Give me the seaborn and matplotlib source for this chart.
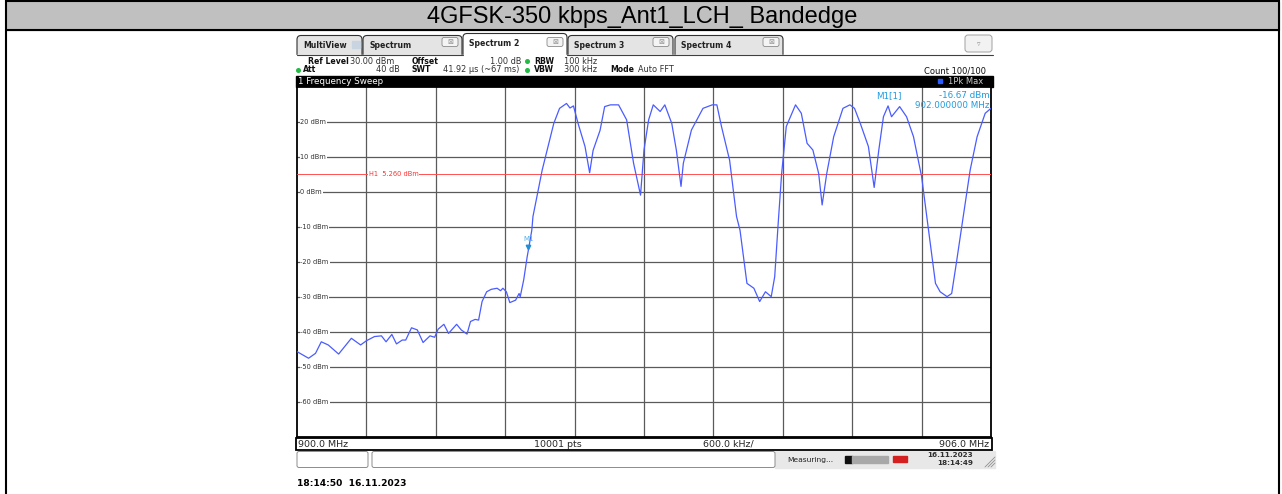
import matplotlib
matplotlib.use("Agg")
import matplotlib.pyplot as plt
from matplotlib.patches import Rectangle, FancyBboxPatch
import seaborn as sns

W, H = 1282, 494

# trace (MHz, dBm)
freq_mhz = [
    900.00, 900.10, 900.16, 900.21, 900.27, 900.36, 900.47, 900.55, 900.60, 900.67,
    900.73, 900.77, 900.82, 900.86, 900.91, 900.94, 900.99, 901.04, 901.09, 901.15,
    901.19, 901.22, 901.27, 901.31, 901.38, 901.42, 901.47, 901.50, 901.54, 901.57,
    901.60, 901.64, 901.68, 901.73, 901.76, 901.78, 901.81, 901.84, 901.89, 901.92,
    901.93, 901.96, 901.99, 902.00, 902.03, 902.04, 902.12, 902.22, 902.27, 902.33,
    902.36, 902.39, 902.43, 902.49, 902.53, 902.56, 902.62, 902.66, 902.71, 902.78,
    902.85, 902.91, 902.97, 903.00, 903.04, 903.08, 903.14, 903.18, 903.24, 903.28,
    903.32, 903.34, 903.41, 903.51, 903.59, 903.63, 903.67, 903.74, 903.80, 903.83,
    903.86, 903.89, 903.95, 904.00, 904.05, 904.10, 904.13, 904.16, 904.19, 904.23,
    904.31, 904.36, 904.41, 904.46, 904.51, 904.54, 904.58, 904.64, 904.72, 904.78,
    904.82, 904.87, 904.94, 904.99, 905.03, 905.07, 905.11, 905.14, 905.21, 905.27,
    905.33, 905.40, 905.46, 905.52, 905.56, 905.62, 905.66, 905.70, 905.76, 905.82,
    905.88, 905.95, 906.00,
]
level_dbm = [
    -45.6, -47.5, -46.1, -42.8, -43.7, -46.3, -41.8, -43.7, -42.5, -41.3,
    -41.1, -42.8, -40.7, -43.4, -42.3, -42.3, -38.8, -39.4, -43.0, -41.1,
    -41.5, -39.2, -37.8, -40.4, -37.8, -39.4, -40.6, -37.0, -36.4, -36.6,
    -31.3, -28.5, -27.8, -27.5, -28.2, -27.5, -28.5, -31.6, -30.9, -29.0,
    -29.9, -25.1, -18.5, -16.67, -10.9, -7.0, 6.3, 19.6, 23.9, 25.3,
    24.0, 24.6, 19.6, 13.0, 5.5, 11.9, 17.6, 24.4, 24.9, 24.9,
    20.6, 8.2, -0.9, 12.0, 20.6, 24.9, 23.0, 24.9, 19.6, 11.9,
    1.6, 8.2, 17.7, 23.9, 24.9, 24.9, 18.7, 9.1, -7.0, -10.9,
    -18.5, -26.1, -27.5, -31.3, -28.5, -29.9, -24.2, -9.0, 5.3, 18.7,
    24.9, 22.5, 13.9, 12.0, 5.3, -3.7, 5.3, 15.8, 23.9, 24.9,
    23.9, 19.6, 13.0, 1.3, 12.0, 21.5, 24.6, 21.5, 24.4, 21.5,
    15.8, 4.4, -10.9, -26.1, -28.5, -29.9, -29.0, -20.4, -7.0, 6.3,
    15.8, 22.5, 23.9,
]

y_ticks = [20, 10, 0, -10, -20, -30, -40, -50, -60]
x_grid = [900.6, 901.2, 901.8, 902.4, 903.0, 903.6, 904.2, 904.8, 905.4]
h1_level = 5.26
m1_freq = 902.0
m1_level = -16.67

title = "4GFSK-350 kbps_Ant1_LCH_ Bandedge"
tab_names = ["MultiView", "Spectrum", "Spectrum 2", "Spectrum 3", "Spectrum 4"]
tab_x = [(297, 362), (363, 462), (463, 567), (568, 673), (675, 783)]

sns.set_style("white")
plt.rcParams["font.family"] = ["DejaVu Sans"]

fig = plt.figure(figsize=(W / 100, H / 100), dpi=100)
bg = fig.add_axes([0, 0, 1, 1])
bg.set_xlim(0, W)
bg.set_ylim(H, 0)
bg.axis("off")

# table title row
bg.add_patch(Rectangle((6, 2), 1273, 28, color="#c0c0c0", zorder=1))
bg.plot([6, 1279], [1.5, 1.5], color="black", lw=1.5)
bg.plot([6, 1279], [30.5, 30.5], color="black", lw=1.5)
bg.plot([6, 6], [0, H], color="black", lw=1.5)
bg.plot([1279, 1279], [0, H], color="black", lw=1.5)
bg.text(642.5, 17.5, title, ha="center", va="center", fontsize=17, color="black",
        family=["Liberation Sans", "DejaVu Sans"])

# tabs
for name, (x0, x1) in zip(tab_names, tab_x):
    active = name == "Spectrum 2"
    top = 33.5 if active else 35.5
    bg.add_patch(FancyBboxPatch((x0, top), x1 - x0, 60 - top,
                                boxstyle="round,pad=0,rounding_size=4",
                                fc="white" if active else "#e4e4e4",
                                ec="#303030", lw=0.8, zorder=3))
    bg.text(x0 + 6, 43.5 if active else 45, name, fontsize=5.6, weight="bold",
            va="center", color="#202020", zorder=7)
    if name == "MultiView":
        bg.add_patch(Rectangle((352, 41), 8, 7, color="#c8d4e0", zorder=7))
    else:
        bg.add_patch(FancyBboxPatch((x1 - 20, 37.5), 16, 9,
                                    boxstyle="round,pad=0,rounding_size=2",
                                    fc="#f4f4f4", ec="#8a8a8a", lw=0.6, zorder=7))
        bg.text(x1 - 12, 42, "\u22a0", fontsize=5, ha="center", va="center",
                color="#909090", zorder=8)
bg.add_patch(Rectangle((296, 55.4), 698, 21, color="white", zorder=5))
bg.plot([297, 463], [55, 55], color="#404040", lw=0.8, zorder=6)
bg.plot([567, 993], [55, 55], color="#404040", lw=0.8, zorder=6)
bg.add_patch(FancyBboxPatch((965, 35), 27, 17, boxstyle="round,pad=0,rounding_size=3",
                            fc="#f2f2f2", ec="#a0a0a0", lw=0.7, zorder=5))
bg.text(978.5, 43.5, "\u25bf", fontsize=5, ha="center", va="center", color="#909090", zorder=6)

# setting lines
bold = dict(fontsize=5.6, weight="bold", va="center", color="#101010", zorder=7)
norm = dict(fontsize=5.9, va="center", color="#303030", zorder=7)
bg.text(308, 61, "Ref Level", **bold)
bg.text(350, 61, "30.00 dBm", **norm)
bg.text(412, 61, "Offset", **bold)
bg.text(521, 61, "1.00 dB", ha="right", **norm)
bg.text(534, 61, "RBW", **bold)
bg.text(564, 61, "100 kHz", **norm)
bg.text(303, 70, "Att", **bold)
bg.text(400, 70, "40 dB", ha="right", **norm)
bg.text(412, 70, "SWT", **bold)
bg.text(443, 70, "41.92 \u00b5s (~67 ms)", **norm)
bg.text(534, 70, "VBW", **bold)
bg.text(564, 70, "300 kHz", **norm)
bg.text(610, 70, "Mode", **bold)
bg.text(638, 70, "Auto FFT", **norm)
bg.text(986, 71, "Count 100/100", ha="right", fontsize=6, va="center", color="#101010", zorder=7)
bg.plot([527, 527, 298], [61, 70, 70], "o", ms=2.6, color="#22bb44", lw=0, zorder=7)

# sweep title bar
bg.add_patch(Rectangle((296, 76.5), 697, 10.5, color="black", zorder=6))
bg.text(298, 81.8, "1 Frequency Sweep", fontsize=6.3, color="white", va="center", zorder=7)
bg.plot([940], [81], "s", ms=2.2, color="#2a5cff", zorder=7)
bg.text(983, 81, "1Pk Max", fontsize=6, color="#c8c8c8", va="center", ha="right", zorder=7)

# bottom frequency bar
bg.add_patch(Rectangle((296, 437.5), 696, 12, fc="white", ec="black", lw=1.3, zorder=2))
bfs = 6.8
bg.text(298, 444, "900.0 MHz", fontsize=bfs, va="center", zorder=3)
bg.text(534, 444, "10001 pts", fontsize=bfs, va="center", zorder=3)
bg.text(703, 444, "600.0 kHz/", fontsize=bfs, va="center", zorder=3)
bg.text(989, 444, "906.0 MHz", fontsize=bfs, va="center", ha="right", zorder=3)

# status bar
bg.add_patch(Rectangle((775, 451), 220, 17, color="#e8e8e8", zorder=1))
bg.add_patch(FancyBboxPatch((297, 451.5), 71, 16, boxstyle="round,pad=0,rounding_size=2",
                            fc="white", ec="#8c8c8c", lw=0.7, zorder=2))
bg.add_patch(FancyBboxPatch((372, 451.5), 403, 16, boxstyle="round,pad=0,rounding_size=2",
                            fc="white", ec="#8c8c8c", lw=0.7, zorder=2))
bg.text(787, 459.5, "Measuring...", fontsize=5.4, va="center", color="#202020", zorder=3)
bg.add_patch(Rectangle((845, 456), 7, 7, color="#101010", zorder=3))
bg.add_patch(Rectangle((852, 456), 36, 7, color="#a8a8a8", zorder=3))
bg.add_patch(Rectangle((893, 456), 14, 6, color="#d42020", zorder=3))
bg.text(973, 455, "16.11.2023", fontsize=5.2, ha="right", va="center", weight="bold",
        color="#303030", zorder=3)
bg.text(973, 463, "18:14:49", fontsize=5.2, ha="right", va="center", weight="bold",
        color="#303030", zorder=3)
for k in range(3):
    bg.plot([985 + 3 * k, 995], [467, 457 + 3 * k], color="#909090", lw=0.6, zorder=3)

bg.text(297, 483, "18:14:50  16.11.2023", fontsize=6.6, weight="bold", va="center",
        color="black")

# spectrum plot
ax = fig.add_axes([297 / W, 1 - 437 / H, 694 / W, 350 / H])
ax.set_facecolor("white")
sns.lineplot(x=freq_mhz, y=level_dbm, ax=ax, color="#4a5cff", lw=0.9, zorder=4)
ax.set_xlim(900, 906)
ax.set_ylim(-70, 30)
for gx in x_grid:
    ax.axvline(gx, color="#5a5a5a", lw=0.9, zorder=1)
for gy in y_ticks:
    ax.axhline(gy, color="#5a5a5a", lw=0.9, zorder=1)
    ax.text(900.03, gy, f"{gy} dBm", fontsize=4.8, color="#303030", va="center", zorder=2,
            bbox=dict(fc="white", ec="none", pad=0.6))
ax.axhline(h1_level, color="#ff5050", lw=0.7, zorder=3)
ax.text(900.62, h1_level, "H1  5.260 dBm", fontsize=4.8, color="#ff3030", va="center", zorder=3,
        bbox=dict(fc="white", ec="none", pad=0.4))
ax.plot([m1_freq], [m1_level + 0.9], marker="v", ms=3.2, color="#2090d8", lw=0, zorder=5)
ax.text(m1_freq, m1_level + 2.8, "M1", fontsize=5, color="#50b0e8", ha="center", zorder=5)
ax.text(905.23, 27.5, "M1[1]", fontsize=6.3, color="#1e9be0", ha="right", va="center", zorder=5)
ax.text(905.99, 27.5, f"{m1_level:.2f} dBm", fontsize=6.3, color="#1e9be0", ha="right",
        va="center", zorder=5)
ax.text(905.99, 24.7, f"{m1_freq:.6f} MHz", fontsize=6.3, color="#1e9be0", ha="right",
        va="center", zorder=5)
ax.set_xticks([])
ax.set_yticks([])
ax.set_xlabel("")
ax.set_ylabel("")
for sp in ax.spines.values():
    sp.set_color("black")
    sp.set_linewidth(1.3)
    sp.set_visible(True)

fig.savefig("out.png", dpi=100)
